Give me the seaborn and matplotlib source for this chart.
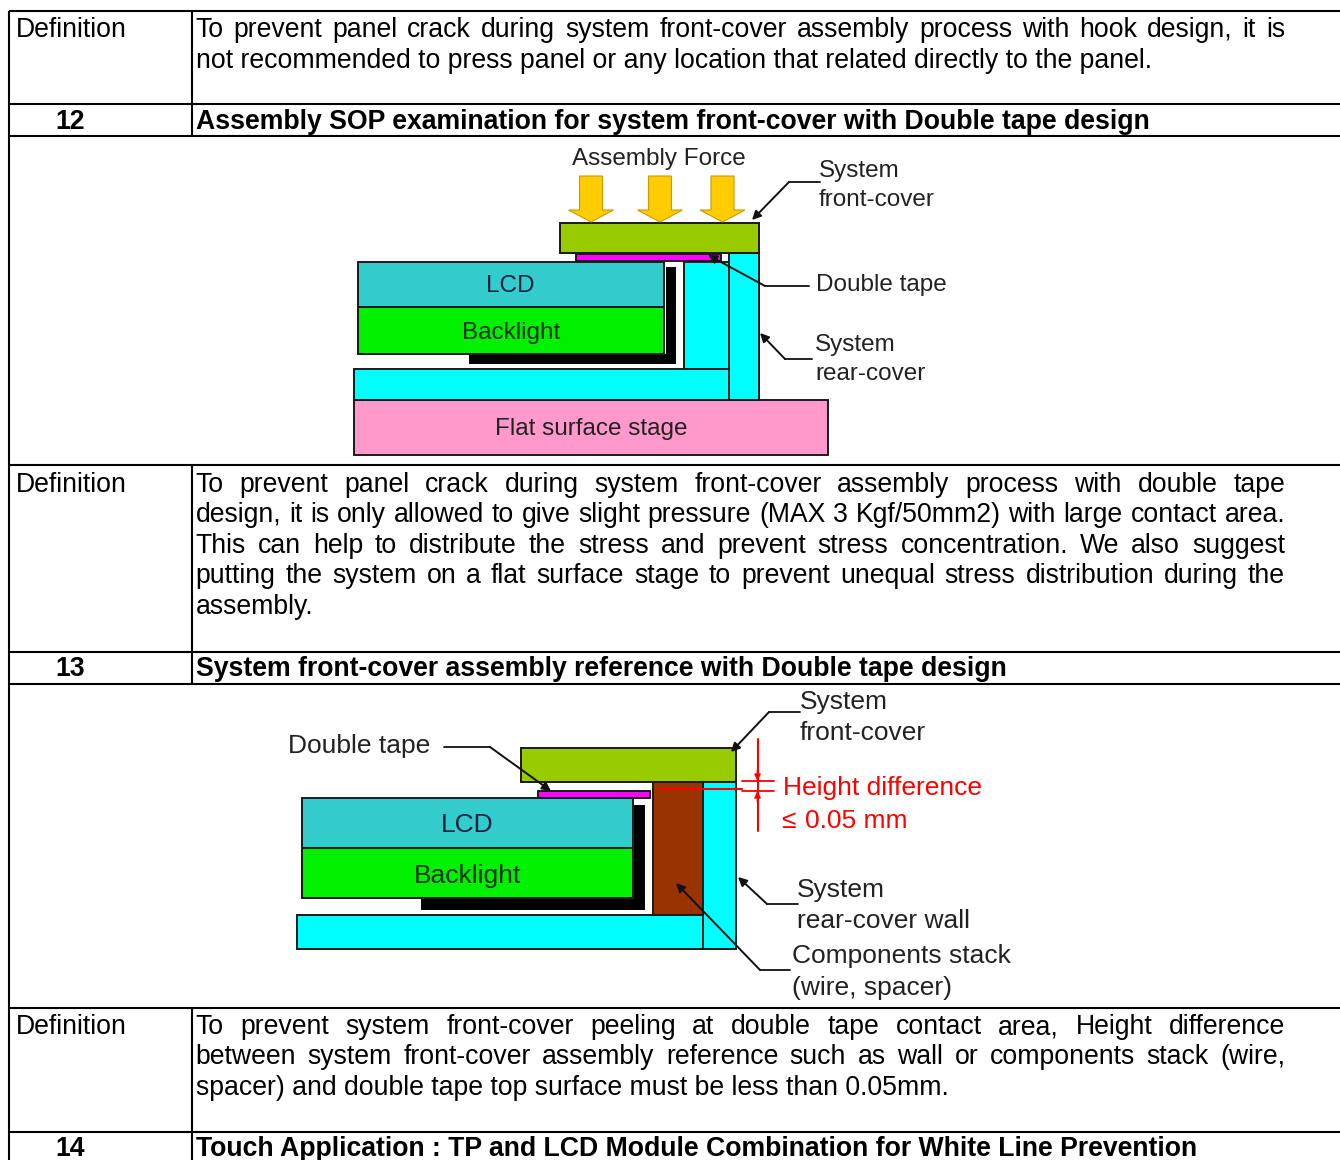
import matplotlib
matplotlib.use("Agg")
import matplotlib.pyplot as plt
from matplotlib.patches import Rectangle, Polygon
import seaborn as sns

sns.set_theme(style="white")
plt.rcParams["font.family"] = ["Liberation Sans", "DejaVu Sans"]

# ---- table content ----
row_labels = ["12", "13", "14"]
row_titles = [
    "Assembly SOP examination for system front-cover with Double tape design",
    "System front-cover assembly reference with Double tape design",
    "Touch Application : TP and LCD Module Combination for White Line Prevention",
]
definition_1 = [
    "To prevent panel crack during system front-cover assembly process with hook design, it is",
    "not recommended to press panel or any location that related directly to the panel.",
]
definition_2 = [
    "To prevent panel crack during system front-cover assembly process with double tape",
    "design, it is only allowed to give slight pressure (MAX 3 Kgf/50mm2) with large contact area.",
    "This can help to distribute the stress and prevent stress concentration. We also suggest",
    "putting the system on a flat surface stage to prevent unequal stress distribution during the",
    "assembly.",
]
definition_3 = [
    "To prevent system front-cover peeling at double tape contact area, Height difference",
    "between system front-cover assembly reference such as wall or components stack (wire,",
    "spacer) and double tape top surface must be less than 0.05mm.",
]

# ---- table rules (pixels) ----
h_rules = [11, 103.5, 135.5, 465, 652, 684, 1008, 1132]
v_segments = [(11, 135.5), (465, 684), (1008, 1160)]

# ---- diagram shapes: x0, x1, y0, y1, colour ----
CY, LC, BL, FC, TP = "#00FFFF", "#33CCCC", "#00F000", "#99CC00", "#FF00FF"
diagram_a = [
    (354, 828, 400, 455, "#FF99CC"),
    (354, 729, 369, 400, CY),
    (684, 729, 262, 369, CY),
    (729, 759, 253, 400, CY),
    (470, 675, 355, 363, "black"),
    (667, 675, 268, 363, "black"),
    (358, 664, 262, 307, LC),
    (358, 664, 307, 354, BL),
    (576, 721, 254, 261, TP),
    (560, 759, 223, 253, FC),
]
diagram_b = [
    (297, 703, 915, 949, CY),
    (703, 736, 782, 949, CY),
    (653, 703, 782, 915, "#993300"),
    (422, 644, 900, 909, "black"),
    (635, 644, 806, 909, "black"),
    (302, 633, 798, 848, LC),
    (302, 633, 848, 898, BL),
    (538, 650, 791, 798, TP),
    (521, 736, 748, 782, FC),
]
force_arrow_x = [591, 660, 722.5]

# leaders: polyline ending in an arrow tip
leaders = [
    [(820, 182), (789, 182), (752, 220)],
    [(809, 286), (765, 286), (708, 255)],
    [(812, 359), (785, 359), (760, 333)],
    [(444, 747), (490, 747), (551, 791)],
    [(800, 712), (769, 712), (731, 752)],
    [(798, 904), (767, 904), (738, 877)],
    [(790, 970), (760, 970), (676, 883)],
]

# diagram labels: x, y(centre), text, ha, colour, font size
labels = [
    (659, 158.5, "Assembly Force", "center", "#222222", 17.5),
    (819, 171.5, "System", "left", "#222222", 17.5),
    (819, 200.5, "front-cover", "left", "#222222", 17.5),
    (816, 284.5, "Double tape", "left", "#222222", 17.5),
    (815, 345.5, "System", "left", "#222222", 17.5),
    (815, 374.5, "rear-cover", "left", "#222222", 17.5),
    (510, 286.5, "LCD", "center", "#102040", 17.5),
    (511, 332.5, "Backlight", "center", "#003300", 17.5),
    (591, 429.5, "Flat surface stage", "center", "#222222", 17.5),
    (288, 746.5, "Double tape", "left", "#222222", 19),
    (800, 701.5, "System", "left", "#222222", 19),
    (800, 732.5, "front-cover", "left", "#222222", 19),
    (783, 788.5, "Height difference", "left", "#FF0000", 19),
    (781, 820.5, "≤", "left", "#FF0000", 19),
    (805, 820.5, "0.05 mm", "left", "#FF0000", 19),
    (797, 889.5, "System", "left", "#222222", 19),
    (797, 920.5, "rear-cover wall", "left", "#222222", 19),
    (792, 956.5, "Components stack", "left", "#222222", 19),
    (792, 988.5, "(wire, spacer)", "left", "#222222", 19),
    (467, 824.5, "LCD", "center", "#102040", 19),
    (468, 875.5, "Backlight", "center", "#003300", 19),
]

fig = plt.figure(figsize=(13.4, 11.6), dpi=100, facecolor="white")
ax = fig.add_axes([0, 0, 1, 1])
ax.set_xlim(0, 1340)
ax.set_ylim(1160, 0)
ax.axis("off")

BODY = 19.16
rend = fig.canvas.get_renderer()


def width(s, **kw):
    t = ax.text(0, 0, s, fontsize=BODY, **kw)
    w = t.get_window_extent(rend).width
    t.remove()
    return w


def justified(lines, top, pitch, x0=195.5, x1=1285):
    for i, line in enumerate(lines):
        y = top + i * pitch + 9
        last = i == len(lines) - 1
        if last:
            ax.text(x0, y, line, fontsize=BODY, color="black", va="baseline")
            continue
        words = line.split(" ")
        total = sum(width(w) for w in words)
        gap = (x1 - x0 - total) / (len(words) - 1)
        x = x0
        for w in words:
            ax.text(x, y, w, fontsize=BODY, color="black", va="baseline")
            x += width(w) + gap


# table rules
for y in h_rules:
    ax.plot([9, 1340], [y, y], color="black", lw=1.5, solid_capstyle="butt")
ax.plot([9, 9], [11, 1160], color="black", lw=1.5, solid_capstyle="butt")
for a, b in v_segments:
    ax.plot([192, 192], [a, b], color="black", lw=1.5, solid_capstyle="butt")

# table text
for y in [28, 482.5, 1025]:
    ax.text(15.5, y + 9, "Definition", fontsize=BODY, color="black", va="baseline")
for lab, title, y in zip(row_labels, row_titles, [120, 667, 1147]):
    ax.text(70, y + 9, lab, fontsize=BODY, fontweight="bold", ha="center", va="baseline", color="black")
    ax.text(196, y + 9, title, fontsize=BODY, fontweight="bold", va="baseline", color="black")
justified(definition_1, 28, 30.5)
justified(definition_2, 482.5, 30.6)
justified(definition_3, 1025, 30.5)

# diagrams
for x0, x1, y0, y1, c in diagram_a + diagram_b:
    ec = "black" if c == "black" else "#1A1A1A"
    ax.add_patch(Rectangle((x0, y0), x1 - x0, y1 - y0, facecolor=c, edgecolor=ec, lw=1.4))

for cx in force_arrow_x:
    pts = [(cx - 11.5, 176), (cx + 11.5, 176), (cx + 11.5, 210), (cx + 22.5, 210),
           (cx, 222), (cx - 22.5, 210), (cx - 11.5, 210)]
    ax.add_patch(Polygon(pts, closed=True, facecolor="#FFCC00", edgecolor="#CC9900", lw=0.8))

for pts in leaders:
    ax.plot([p[0] for p in pts[:2]], [p[1] for p in pts[:2]], color="#222222", lw=1.4)
    ax.annotate("", xy=pts[2], xytext=pts[1],
                arrowprops=dict(arrowstyle="-|>", color="#111111", lw=1.4, mutation_scale=13,
                                shrinkA=0, shrinkB=0))

# red height-difference marker
RED = "#FF0000"
ax.plot([757.5, 757.5], [739, 831], color=RED, lw=1.5)
ax.plot([658, 742], [789, 789], color=RED, lw=1.5)
ax.plot([742, 774], [781, 781], color=RED, lw=1.3)
ax.plot([742, 774], [791, 791], color=RED, lw=1.3)
for tip, tail in [(781, 770), (791, 802)]:
    ax.annotate("", xy=(757.5, tip), xytext=(757.5, tail),
                arrowprops=dict(arrowstyle="-|>", color=RED, lw=1.2, mutation_scale=9,
                                shrinkA=0, shrinkB=0))

for x, y, s, ha, c, fs in labels:
    ax.text(x, y, s, fontsize=fs, ha=ha, va="center", color=c)

fig.savefig("out.png", dpi=100)
